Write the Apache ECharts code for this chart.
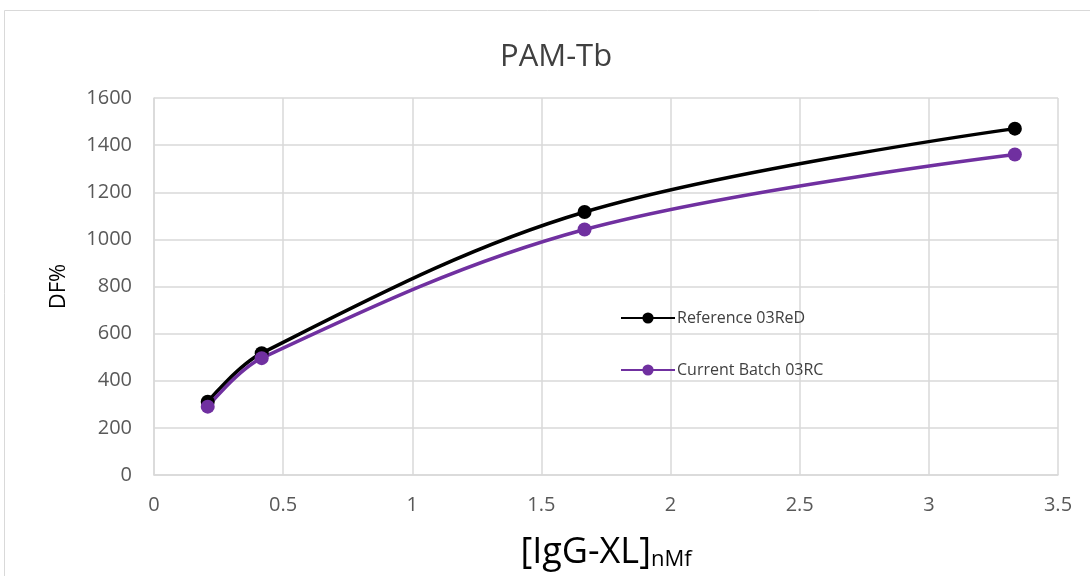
<!DOCTYPE html>
<html><head><meta charset="utf-8">
<script src="https://cdn.jsdelivr.net/npm/echarts@6/dist/echarts.min.js"></script>
<style>html,body{margin:0;padding:0;background:#fff}#c{width:1090px;height:576px}</style>
</head><body><div id="c"></div>
<script>
const concentrations = [0.208, 0.417, 1.667, 3.333];
const referenceValues = [311, 517, 1116, 1470];
const currentValues = [290, 496, 1042, 1360];
const seriesNames = ['Reference 03ReD', 'Current Batch 03RC'];
const seriesColors = ['#000000', '#7030a0'];

const chart = echarts.init(document.getElementById('c'));
const font = "'Open Sans', 'Noto Sans', sans-serif";
function pairs(vals){ return concentrations.map((x,i)=>[x, vals[i]]); }
chart.setOption({
  animation: false,
  backgroundColor: '#fff',
  graphic: [{type:'rect', shape:{x:4.5,y:10.5,width:1100,height:600}, style:{fill:'none', stroke:'#d9d9d9', lineWidth:1}, silent:true}],
  title: {text:'PAM-Tb', left:495, top:37, textStyle:{fontFamily:font, fontSize:31, fontWeight:'normal', color:'#404040'}},
  legend: {orient:'vertical', left:615, top:305, itemGap:36, itemWidth:54, itemHeight:14,
    textStyle:{fontFamily:font, fontSize:16, color:'#404040', padding:[0,0,0,-3]}, data: seriesNames},
  grid: {left:154, right:32, top:98, bottom:100},
  xAxis: {type:'value', min:0, max:3.5, interval:0.5,
    name:'{a|[IgG-XL]}{b|nMf}', nameLocation:'middle', nameGap:60,
    nameTextStyle:{rich:{a:{fontFamily:font, fontSize:36, color:'#000', verticalAlign:'bottom'}, b:{fontFamily:font, fontSize:22, color:'#000', verticalAlign:'bottom'}}},
    axisLine:{show:true, lineStyle:{color:'#d9d9d9', width:1.5}}, axisTick:{show:false},
    axisLabel:{fontFamily:font, fontSize:20, color:'#595959', margin:20},
    splitLine:{show:true, lineStyle:{color:'#d9d9d9', width:1.5}}},
  yAxis: {type:'value', min:0, max:1600, interval:200,
    name:'DF%', nameLocation:'middle', nameGap:84, nameRotate:90,
    nameTextStyle:{fontFamily:font, fontSize:22, color:'#000'},
    axisLine:{show:true, lineStyle:{color:'#d9d9d9', width:1.5}}, axisTick:{show:false},
    axisLabel:{fontFamily:font, fontSize:20, color:'#595959', margin:22, formatter:(v)=>String(v)},
    splitLine:{show:true, lineStyle:{color:'#d9d9d9', width:1.5}}},
  series: [
    {name:seriesNames[0], type:'line', data:pairs(referenceValues), smooth:0.35, symbol:'circle', symbolSize:14,
      itemStyle:{color:seriesColors[0]}, lineStyle:{color:seriesColors[0], width:3.5}},
    {name:seriesNames[1], type:'line', data:pairs(currentValues), smooth:0.35, symbol:'circle', symbolSize:14,
      itemStyle:{color:seriesColors[1]}, lineStyle:{color:seriesColors[1], width:3.5}}
  ]
});
</script></body></html>
